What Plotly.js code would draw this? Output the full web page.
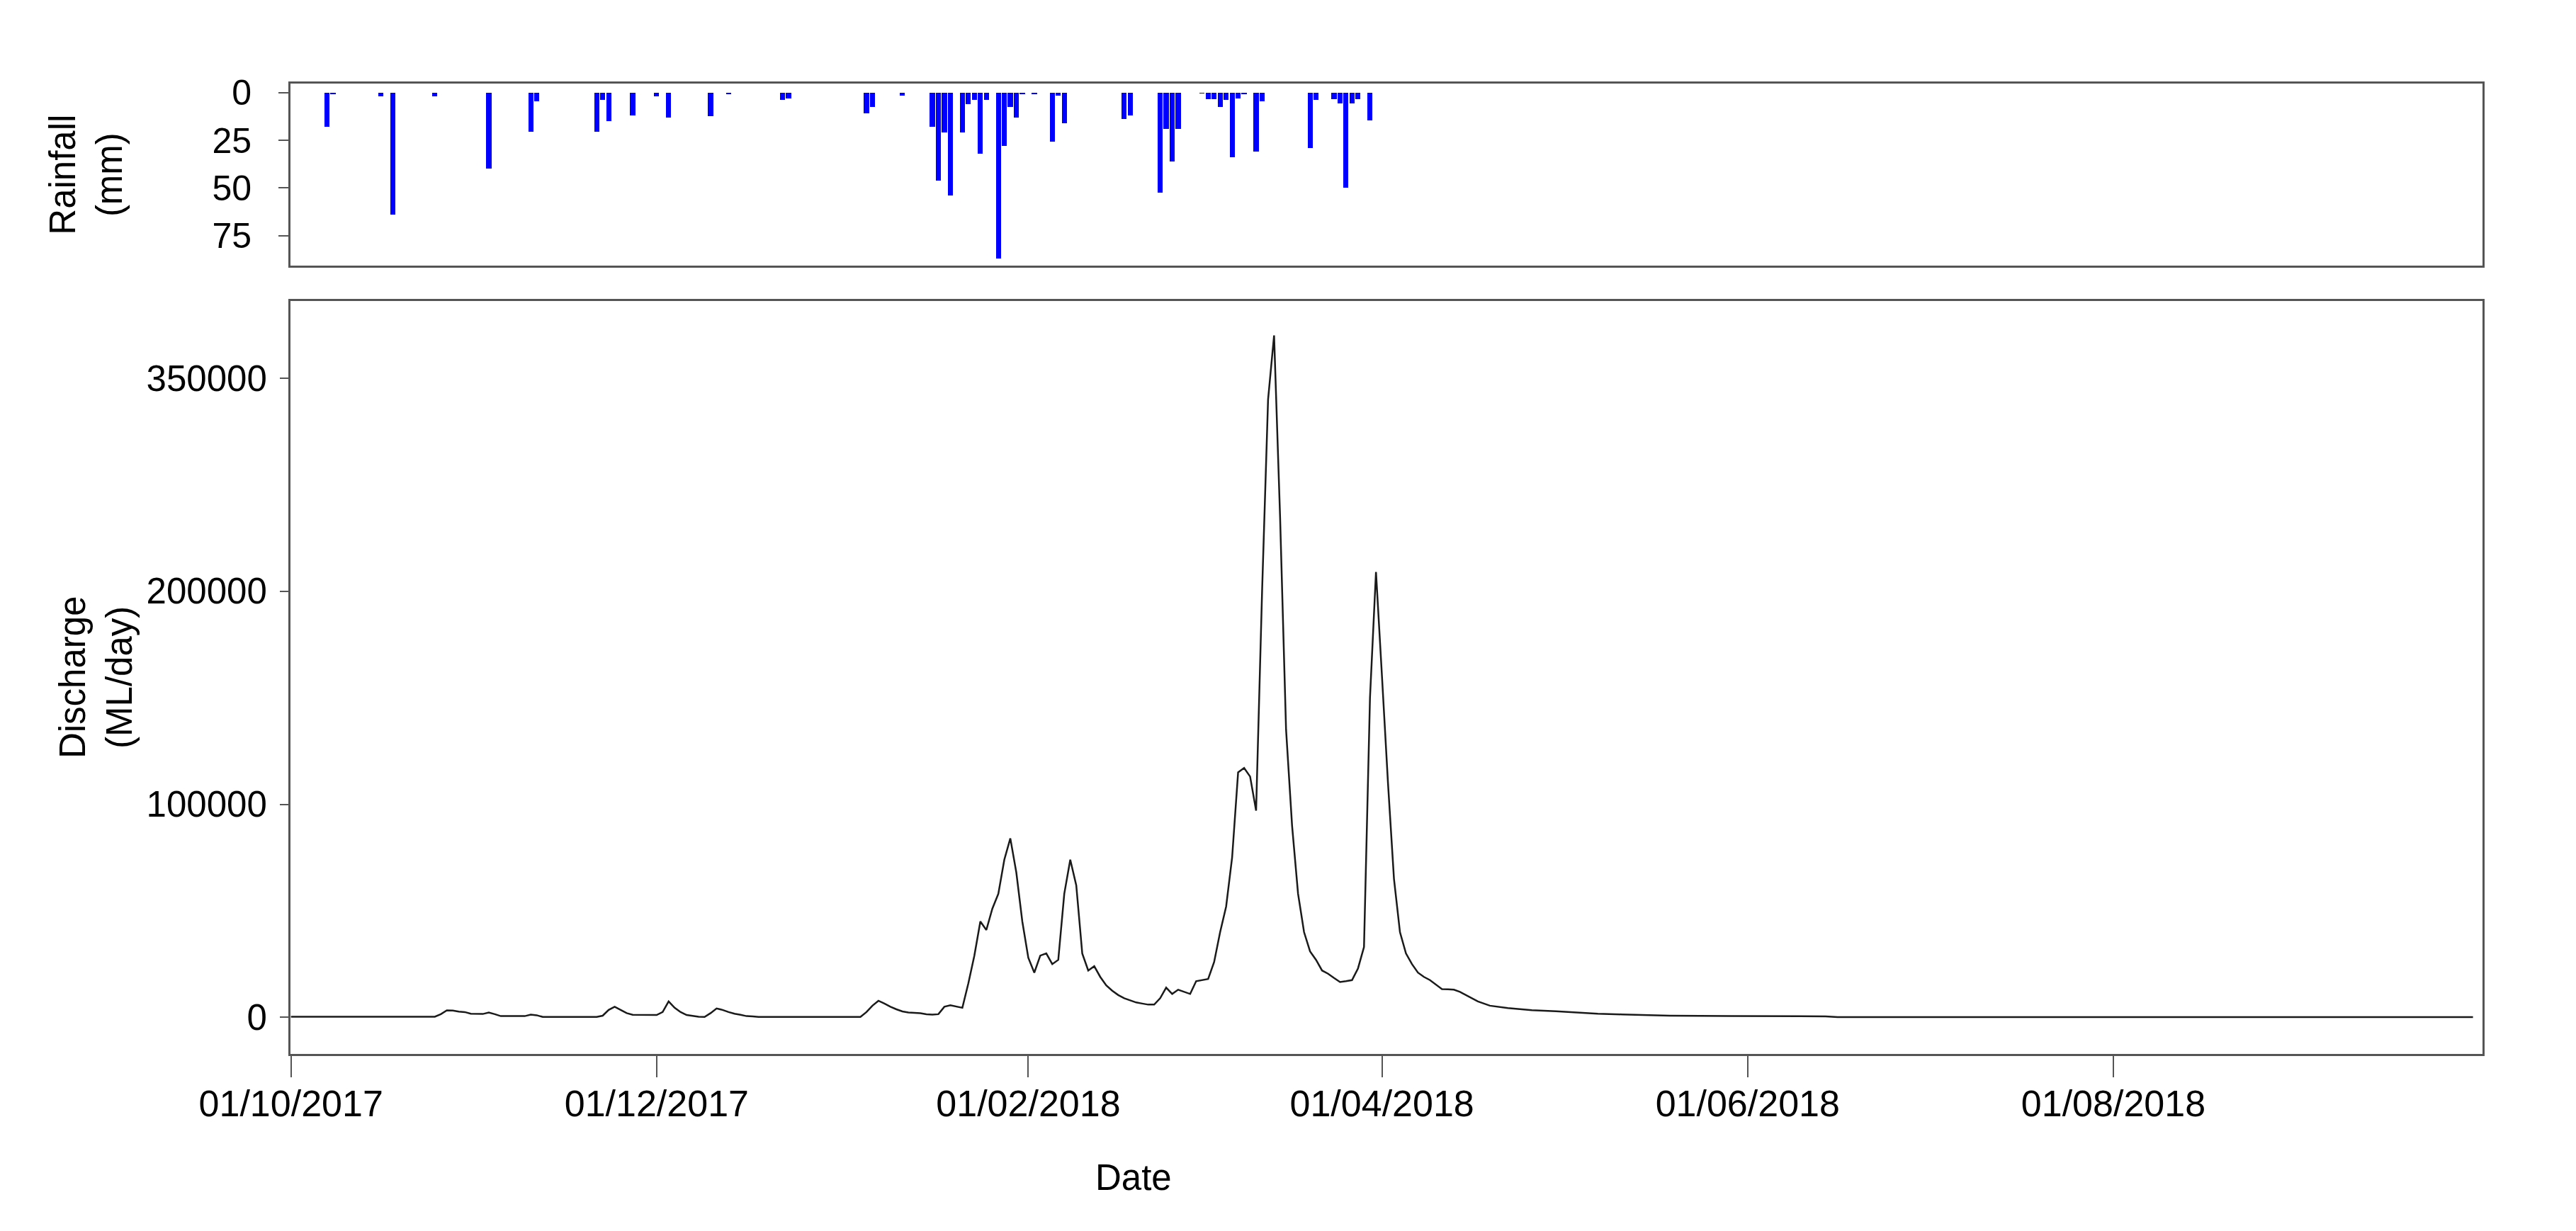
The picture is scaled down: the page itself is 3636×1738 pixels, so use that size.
<!DOCTYPE html>
<html>
<head>
<meta charset="utf-8">
<script src="https://cdn.plot.ly/plotly-3.0.1.min.js"></script>
<style>html,body{margin:0;padding:0;background:#fff;}#chart{width:3636px;height:1738px;}</style>
</head>
<body>
<div id="chart"></div>
<script>
// ---- Data ----
const rainDates = [
  '2017-10-07','2017-10-08','2017-10-16','2017-10-18','2017-10-25','2017-11-03','2017-11-10','2017-11-11',
  '2017-11-21','2017-11-22','2017-11-23','2017-11-27','2017-12-01','2017-12-03','2017-12-10','2017-12-13',
  '2017-12-22','2017-12-23','2018-01-05','2018-01-06','2018-01-11','2018-01-16','2018-01-17','2018-01-18',
  '2018-01-19','2018-01-21','2018-01-22','2018-01-23','2018-01-24','2018-01-25','2018-01-27','2018-01-28',
  '2018-01-29','2018-01-30','2018-01-31','2018-02-02','2018-02-05','2018-02-06','2018-02-07','2018-02-17',
  '2018-02-18','2018-02-23','2018-02-24','2018-02-25','2018-02-26','2018-03-02','2018-03-03','2018-03-04',
  '2018-03-05','2018-03-06','2018-03-07','2018-03-08','2018-03-09','2018-03-11','2018-03-12','2018-03-20',
  '2018-03-21','2018-03-24','2018-03-25','2018-03-26','2018-03-27','2018-03-28','2018-03-30'
];
const rainMm = [
  18, 1, 2, 64, 2, 40, 20.6, 4.6,
  20.6, 4, 15, 12, 2, 13, 12.4, 1,
  4, 3, 10.8, 7.7, 1.5, 18, 46, 21,
  54, 21, 6, 4, 32, 4, 87, 28,
  7.7, 13, 1, 1, 25.6, 1.5, 16, 14,
  12, 52.5, 19, 36, 19, 0.5, 3.5, 3.5,
  7.7, 4, 34, 3, 1, 31, 4.5, 29,
  4, 3.5, 5.8, 50, 5.8, 3.5, 14.5
];

const flowDates = [
  '2017-10-01','2017-10-25','2017-10-26','2017-10-27','2017-10-28','2017-10-29','2017-10-30','2017-10-31',
  '2017-11-02','2017-11-03','2017-11-04','2017-11-05','2017-11-09','2017-11-10','2017-11-11','2017-11-12',
  '2017-11-21','2017-11-22','2017-11-23','2017-11-24','2017-11-25','2017-11-26','2017-11-27','2017-12-01',
  '2017-12-02','2017-12-03','2017-12-04','2017-12-05','2017-12-06','2017-12-07','2017-12-08','2017-12-09',
  '2017-12-10','2017-12-11','2017-12-12','2017-12-13','2017-12-14','2017-12-15','2017-12-16','2017-12-17',
  '2017-12-18','2018-01-04','2018-01-05','2018-01-06','2018-01-07','2018-01-08','2018-01-09','2018-01-10',
  '2018-01-11','2018-01-12','2018-01-13','2018-01-14','2018-01-15','2018-01-16','2018-01-17','2018-01-18',
  '2018-01-19','2018-01-20','2018-01-21','2018-01-22','2018-01-23','2018-01-24','2018-01-25','2018-01-26',
  '2018-01-27','2018-01-28','2018-01-29','2018-01-30','2018-01-31','2018-02-01','2018-02-02','2018-02-03',
  '2018-02-04','2018-02-05','2018-02-06','2018-02-07','2018-02-08','2018-02-09','2018-02-10','2018-02-11',
  '2018-02-12','2018-02-13','2018-02-14','2018-02-15','2018-02-16','2018-02-17','2018-02-18','2018-02-19',
  '2018-02-20','2018-02-21','2018-02-22','2018-02-23','2018-02-24','2018-02-25','2018-02-26','2018-02-27',
  '2018-02-28','2018-03-01','2018-03-02','2018-03-03','2018-03-04','2018-03-05','2018-03-06','2018-03-07',
  '2018-03-08','2018-03-09','2018-03-10','2018-03-11','2018-03-12','2018-03-13','2018-03-14','2018-03-15',
  '2018-03-16','2018-03-17','2018-03-18','2018-03-19','2018-03-20','2018-03-21','2018-03-22','2018-03-23',
  '2018-03-24','2018-03-25','2018-03-26','2018-03-27','2018-03-28','2018-03-29','2018-03-30','2018-03-31',
  '2018-04-01','2018-04-02','2018-04-03','2018-04-04','2018-04-05','2018-04-06','2018-04-07','2018-04-08',
  '2018-04-09','2018-04-10','2018-04-11','2018-04-12','2018-04-13','2018-04-14','2018-04-15','2018-04-16',
  '2018-04-17','2018-04-18','2018-04-19','2018-04-22','2018-04-26','2018-04-30','2018-05-03','2018-05-07',
  '2018-05-11','2018-05-15','2018-05-19','2018-05-29','2018-06-14','2018-06-16','2018-09-30'
];
const flowMl = [
  300, 300, 1500, 3300, 3200, 2700, 2500, 1700,
  1600, 2300, 1500, 600, 600, 1300, 1000, 200,
  200, 800, 3500, 5000, 3500, 2000, 1200, 1100,
  2500, 7500, 4500, 2500, 1100, 700, 300, 200,
  2000, 4200, 3500, 2500, 1700, 1200, 600, 500,
  200, 200, 2500, 5500, 7800, 6500, 5000, 3800,
  2800, 2300, 2200, 2000, 1500, 1300, 1500, 5000,
  5700, 5200, 4500, 16000, 29000, 45000, 41000, 51000,
  58000, 74000, 84000, 68000, 45000, 28000, 21000, 29000,
  30000, 25000, 27000, 58000, 74000, 62000, 30000, 22000,
  24000, 19000, 15000, 12500, 10500, 9000, 8000, 7000,
  6500, 6000, 6000, 9000, 14000, 11000, 13000, 12000,
  11000, 17000, 17500, 18000, 26000, 40000, 52000, 75000,
  115000, 117000, 113000, 97000, 200000, 290000, 320000, 235000,
  135000, 90000, 58000, 40000, 31000, 27000, 22000, 20500,
  18500, 16600, 17000, 17500, 23000, 33000, 150000, 209000,
  160000, 110000, 65000, 40000, 30000, 25000, 21000, 19000,
  17500, 15500, 13300, 13200, 13000, 12000, 10500, 9000,
  7500, 6500, 5500, 4400, 3400, 2900, 2300, 1700,
  1400, 1200, 800, 600, 500, 100, 100
];

const xTickVals = ['2017-10-01','2017-12-01','2018-02-01','2018-04-01','2018-06-01','2018-08-01'];
const xTickText = ['01/10/2017','01/12/2017','01/02/2018','01/04/2018','01/06/2018','01/08/2018'];
const rainTickVals = [0, 25, 50, 75];
const rainTickText = ['0', '25', '50', '75'];
const flowTickVals = [0, 100000, 200000, 300000];
const flowTickText = ['0', '100000', '200000', '350000'];

// ---- Styling ----
const FONT = 'Arial, "Liberation Sans", sans-serif';
const BORDER = '#555555';
const DAY_MS = 86400000;

const traces = [
  {
    type: 'bar',
    x: rainDates,
    y: rainMm,
    xaxis: 'x2',
    yaxis: 'y2',
    marker: {color: '#0000ff', line: {width: 0}},
    width: rainDates.map(() => 0.85 * DAY_MS),
    hoverinfo: 'x+y',
    showlegend: false
  },
  {
    type: 'scatter',
    mode: 'lines',
    x: flowDates,
    y: flowMl,
    xaxis: 'x',
    yaxis: 'y',
    line: {color: '#1a1a1a', width: 2.5},
    showlegend: false
  }
];

const xRange = ['2017-09-30 22:00', '2018-10-01 14:00'];

const layout = {
  width: 3636,
  height: 1738,
  paper_bgcolor: '#ffffff',
  plot_bgcolor: '#ffffff',
  margin: {l: 410, r: 132, t: 118, b: 250, pad: 0},
  font: {family: FONT, size: 51, color: '#000000'},
  showlegend: false,
  bargap: 0,
  xaxis: {
    type: 'date',
    domain: [0, 1],
    anchor: 'y',
    range: xRange,
    tickmode: 'array',
    tickvals: xTickVals,
    ticktext: xTickText,
    ticks: 'outside',
    ticklen: 30,
    tickwidth: 2,
    tickcolor: BORDER,
    ticklabelstandoff: -7,
    tickfont: {family: FONT, size: 52, color: '#000'},
    showline: true,
    linecolor: BORDER,
    linewidth: 3,
    mirror: true,
    showgrid: false,
    zeroline: false
  },
  yaxis: {
    domain: [0, 0.7762],
    anchor: 'x',
    range: [-17143, 336246],
    tickmode: 'array',
    tickvals: flowTickVals,
    ticktext: flowTickText,
    ticks: 'outside',
    ticklen: 12,
    tickwidth: 2,
    tickcolor: BORDER,
    ticklabelstandoff: 8,
    tickfont: {family: FONT, size: 51, color: '#000'},
    showline: true,
    linecolor: BORDER,
    linewidth: 3,
    mirror: true,
    showgrid: false,
    zeroline: false,
    title: {text: 'Discharge<br>(ML/day)', font: {family: FONT, size: 51, color: '#000'}, standoff: 4}
  },
  xaxis2: {
    type: 'date',
    domain: [0, 1],
    anchor: 'y2',
    matches: 'x',
    range: xRange,
    showticklabels: false,
    ticks: '',
    showline: true,
    linecolor: BORDER,
    linewidth: 3,
    mirror: true,
    showgrid: false,
    zeroline: false
  },
  yaxis2: {
    domain: [0.8122, 1],
    anchor: 'x2',
    range: [90.8, -4.7],
    tickmode: 'array',
    tickvals: rainTickVals,
    ticktext: rainTickText,
    ticks: 'outside',
    ticklen: 14,
    tickwidth: 2,
    tickcolor: BORDER,
    ticklabelstandoff: 28,
    tickfont: {family: FONT, size: 50, color: '#000'},
    showline: true,
    linecolor: BORDER,
    linewidth: 3,
    mirror: true,
    showgrid: false,
    zeroline: false,
    title: {text: 'Rainfall<br>(mm)', font: {family: FONT, size: 51, color: '#000'}, standoff: 111}
  },
  annotations: [
    {
      text: 'Date',
      xref: 'paper', yref: 'paper',
      x: (1600 - 410) / 3094, y: (1488 - 1663) / 1370,
      xanchor: 'center', yanchor: 'middle',
      showarrow: false,
      font: {family: FONT, size: 51, color: '#000'}
    }
  ]
};

Plotly.newPlot('chart', traces, layout, {displayModeBar: false, staticPlot: true});
</script>
</body>
</html>
